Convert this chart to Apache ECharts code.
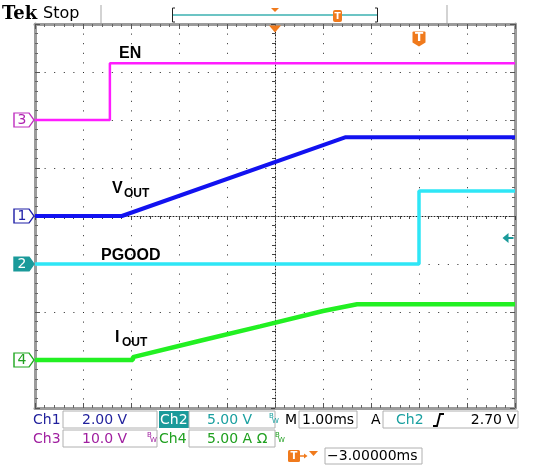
<!DOCTYPE html>
<html><head><meta charset="utf-8">
<script src="https://cdn.jsdelivr.net/npm/echarts@6/dist/echarts.min.js"></script>
<style>html,body{margin:0;padding:0;background:#fff}#c{width:539px;height:465px}</style>
</head><body><div id="c"></div>
<script>
// ---- data (time in ms, trigger at t = 0; 1 ms/div) ----
const timeMin = -8, timeMax = 2;
const enT   = [-8, -6.44, -6.44, 2];
const enV   = [0, 0, 11.8, 11.8];             // Ch3, V
const voutT = [-8, -6.19, -1.54, 2];
const voutV = [0, 0, 3.28, 3.28];             // Ch1, V
const pgT   = [-8, 0, 0, 2];
const pgV   = [0, 0, 7.6, 7.6];               // Ch2, V
const ioutT = [-8, -5.96, -5.96, -4.56, -3.31, -2.0, -1.29, 2];
const ioutV = [0, 0, 0.3, 2.0, 3.5, 5.1, 5.8, 5.8]; // Ch4, A
// channel scale ranges [min, max, per-div] (8 divisions, shifted by channel offset)
const ch1Range = [-8, 8, 2];    // 2 V/div, offset 0 div
const ch2Range = [-15, 25, 5];  // 5 V/div, offset -1 div
const ch3Range = [-60, 20, 10]; // 10 V/div, offset +2 div
const ch4Range = [-5, 35, 5];   // 5 A/div, offset -3 div
const trigLevel = 2.70;
const horizPos = -3;

const zip = (t, v) => t.map((x, i) => [x, v[i]]);
const FONT = '"DejaVu Sans", Verdana, sans-serif';
const LBL = 'bold 16px "Liberation Sans", Arial, sans-serif';
const ORANGE = '#f07a1c', TEAL = '#1a9a9a';
const frameLine = {show: true, onZero: false, lineStyle: {color: '#9c9c9c', width: 3}};
const edgeTick = {show: true, inside: true, length: 5, lineStyle: {color: '#555', width: 1}};
const edgeMinor = {show: true, splitNumber: 5, length: 3, lineStyle: {color: '#666', width: 1}};
const gridDots = {show: true, lineStyle: {color: '#222', width: 1, type: [1, 8.6]}};
const MARK = 'path://M0,0 L15,0 L20,7 L15,14 L0,14 Z';

function chMark(num, fill, stroke, txt) {
  return {coord: [timeMin, 0], symbol: MARK, symbolSize: [20, 14], symbolOffset: [-11, 0],
    itemStyle: {color: fill, borderColor: stroke, borderWidth: 1.2},
    label: {show: true, formatter: num, color: txt, fontSize: 14, fontFamily: FONT, offset: [-2, 0]}};
}
function txt(x, y, text, font, fill, extra) {
  return {type: 'text', x: x, y: y, style: Object.assign({text: text, font: font, fill: fill,
    verticalAlign: 'middle', textVerticalAlign: 'middle'}, extra || {})};
}
function box(x, y, w, h) {
  return {type: 'rect', shape: {x: x, y: y, width: w, height: h}, style: {fill: '#fff', stroke: '#b0b0b0', lineWidth: 1}};
}
function bw(x, y, color) {
  return [
    {type: 'text', x: x, y: y, style: {text: 'B', font: '7px ' + FONT, fill: color}},
    {type: 'text', x: x + 3, y: y + 5, style: {text: 'W', font: '7px ' + FONT, fill: color}}
  ];
}

const chart = echarts.init(document.getElementById('c'), null, {renderer: 'canvas'});
chart.setOption({
  animation: false,
  backgroundColor: '#fff',
  grid: {left: 35, right: 24, top: 24, bottom: 57, containLabel: false},
  xAxis: [
    {type: 'value', min: timeMin, max: timeMax, interval: 1, position: 'bottom',
     axisLine: frameLine, axisTick: edgeTick, minorTick: edgeMinor, axisLabel: {show: false},
     splitLine: gridDots},
    {type: 'value', min: timeMin, max: timeMax, interval: 1, position: 'top',
     axisLine: frameLine, axisTick: edgeTick, minorTick: edgeMinor, axisLabel: {show: false},
     splitLine: {show: false}},
    {type: 'value', min: -5, max: 5, interval: 1,
     axisLine: {show: true, onZero: true, onZeroAxisIndex: 0, lineStyle: {color: '#222', width: 1, type: [1, 2]}},
     axisTick: {show: true, inside: true, length: 4, lineStyle: {color: '#444'}},
     minorTick: {show: true, splitNumber: 5, length: 3, lineStyle: {color: '#444'}},
     axisLabel: {show: false}, splitLine: {show: false}}
  ],
  yAxis: [
    {type: 'value', min: ch1Range[0], max: ch1Range[1], interval: ch1Range[2], position: 'left',
     axisLine: frameLine, axisTick: edgeTick, minorTick: edgeMinor, axisLabel: {show: false},
     splitLine: gridDots},
    {type: 'value', show: false, min: ch2Range[0], max: ch2Range[1], interval: ch2Range[2]},
    {type: 'value', show: false, min: ch3Range[0], max: ch3Range[1], interval: ch3Range[2]},
    {type: 'value', show: false, min: ch4Range[0], max: ch4Range[1], interval: ch4Range[2]},
    {type: 'value', min: ch1Range[0], max: ch1Range[1], interval: ch1Range[2], position: 'right',
     axisLine: frameLine, axisTick: edgeTick, minorTick: edgeMinor, axisLabel: {show: false},
     splitLine: {show: false}},
    {type: 'value', min: ch1Range[0], max: ch1Range[1], interval: ch1Range[2],
     axisLine: {show: true, onZero: true, onZeroAxisIndex: 2, lineStyle: {color: '#222', width: 1, type: [1, 2]}},
     axisTick: {show: true, inside: true, length: 4, lineStyle: {color: '#444'}},
     minorTick: {show: true, splitNumber: 5, length: 3, lineStyle: {color: '#444'}},
     axisLabel: {show: false}, splitLine: {show: false}}
  ],
  series: [
    {type: 'line', name: 'EN', xAxisIndex: 0, yAxisIndex: 2, data: zip(enT, enV),
     showSymbol: false, silent: true, lineStyle: {color: '#ff1cff', width: 2.5},
     markPoint: {silent: true, data: [chMark('3', '#fff', '#c030c0', '#b020b0')]}},
    {type: 'line', name: 'PGOOD', xAxisIndex: 0, yAxisIndex: 1, data: zip(pgT, pgV),
     showSymbol: false, silent: true, lineStyle: {color: '#2ee6f6', width: 3.5},
     markPoint: {silent: true, data: [
       chMark('2', TEAL, TEAL, '#fff'),
       {coord: [timeMax, trigLevel], symbol: 'path://M0,5 L6,0 L6,4 L11,4 L11,6 L6,6 L6,10 Z', symbolSize: [11, 10], symbolOffset: [-7, 0],
        itemStyle: {color: TEAL}, label: {show: false}}
     ]}},
    {type: 'line', name: 'VOUT', xAxisIndex: 0, yAxisIndex: 0, data: zip(voutT, voutV),
     showSymbol: false, silent: true, lineStyle: {color: '#1212f0', width: 4},
     markPoint: {silent: true, data: [
       chMark('1', '#fff', '#2020a8', '#2020a8'),
       {coord: [horizPos, ch1Range[1]], symbol: 'path://M0,0 L10,0 L5,6 Z', symbolSize: [12, 7], symbolOffset: [0, 5],
        itemStyle: {color: ORANGE}, label: {show: false}},
       {coord: [0, ch1Range[1]], symbol: 'path://M1,0 L11,0 Q12,0 12,1 L12,11 L6,15 L0,11 L0,1 Q0,0 1,0 Z', symbolSize: [13, 15], symbolOffset: [0, 15],
        itemStyle: {color: ORANGE},
        label: {show: true, formatter: 'T', color: '#fff', fontSize: 12, fontWeight: 'bold', fontFamily: FONT, offset: [0, -1]}}
     ]}},
    {type: 'line', name: 'IOUT', xAxisIndex: 0, yAxisIndex: 3, data: zip(ioutT, ioutV),
     showSymbol: false, silent: true, lineStyle: {color: '#22f022', width: 4.5},
     markPoint: {silent: true, data: [chMark('4', '#fff', '#20a820', '#20a020')]}}
  ],
  graphic: [].concat(
    [
      // header
      txt(2, 14, 'Tek', 'bold 18px "DejaVu Serif", serif', '#000'),
      txt(43, 14, 'Stop', '16px ' + FONT, '#000'),
      {type: 'line', shape: {x1: 101, y1: 5, x2: 101, y2: 23}, style: {stroke: '#c4c4c4', lineWidth: 1.5}},
      {type: 'line', shape: {x1: 447, y1: 5, x2: 447, y2: 23}, style: {stroke: '#c4c4c4', lineWidth: 1.5}},
      {type: 'polyline', shape: {points: [[175, 8], [172.5, 8], [172.5, 22], [175, 22]]}, style: {stroke: '#222', lineWidth: 1, fill: null}},
      {type: 'polyline', shape: {points: [[375, 8], [377.5, 8], [377.5, 22], [375, 22]]}, style: {stroke: '#222', lineWidth: 1, fill: null}},
      {type: 'line', shape: {x1: 173, y1: 15, x2: 377, y2: 15}, style: {stroke: '#6cc4c4', lineWidth: 2}},
      {type: 'polygon', shape: {points: [[271, 8], [279, 8], [275, 12]]}, style: {fill: ORANGE}},
      {type: 'rect', shape: {x: 333, y: 10, width: 9, height: 12, r: 2}, style: {fill: ORANGE}},
      txt(337.5, 16.5, 'T', 'bold 9px ' + FONT, '#fff', {align: 'center', textAlign: 'center'}),
      // trace labels
      {type: 'text', x: 119, y: 46, style: {text: 'EN', font: LBL, fill: '#000'}},
      {type: 'text', x: 112, y: 181, style: {text: 'V', font: LBL, fill: '#000'}},
      {type: 'text', x: 124, y: 188, style: {text: 'OUT', font: 'bold 12px "Liberation Sans", Arial, sans-serif', fill: '#000'}},
      {type: 'text', x: 101, y: 248, style: {text: 'PGOOD', font: LBL, fill: '#000'}},
      {type: 'text', x: 115, y: 330, style: {text: 'I', font: LBL, fill: '#000'}},
      {type: 'text', x: 122, y: 337, style: {text: 'OUT', font: 'bold 12px "Liberation Sans", Arial, sans-serif', fill: '#000'}},
      // readout boxes
      box(63, 411, 94, 17),
      {type: 'rect', shape: {x: 159, y: 411, width: 30, height: 17}, style: {fill: TEAL}},
      box(189, 411, 86, 17), box(299, 411, 58, 17), box(383, 411, 135, 17),
      box(63, 430, 94, 17), box(189, 430, 86, 17), box(325, 448, 97, 16),
      // row 1
      txt(33, 420, 'Ch1', '14px ' + FONT, '#1f1f9c'),
      txt(82, 420, '2.00 V', '14px ' + FONT, '#1f1f9c'),
      txt(160, 420, 'Ch2', '14px ' + FONT, '#fff'),
      txt(207, 420, '5.00 V', '14px ' + FONT, '#1aa0a0'),
      txt(285, 420, 'M', '14px ' + FONT, '#000'),
      txt(302, 420, '1.00ms', '14px ' + FONT, '#000'),
      txt(371, 420, 'A', '14px ' + FONT, '#000'),
      txt(396, 420, 'Ch2', '14px ' + FONT, '#1aa0a0'),
      {type: 'polyline', shape: {points: [[433, 426], [437, 426], [440, 414], [444, 414]]}, style: {stroke: '#000', lineWidth: 1.8, fill: null}},
      txt(516, 420, '2.70 V', '14px ' + FONT, '#000', {align: 'right', textAlign: 'right'}),
      // row 2
      txt(33, 439, 'Ch3', '14px ' + FONT, '#a020a0'),
      txt(82, 439, '10.0 V', '14px ' + FONT, '#a020a0'),
      txt(159, 439, 'Ch4', '14px ' + FONT, '#20a020'),
      txt(207, 439, '5.00 A Ω', '14px ' + FONT, '#20a020'),
      // row 3
      {type: 'rect', shape: {x: 288, y: 450, width: 12, height: 12, r: 1.5}, style: {fill: ORANGE}},
      txt(294, 456, 'T', 'bold 10px ' + FONT, '#fff', {align: 'center', textAlign: 'center'}),
      {type: 'line', shape: {x1: 300, y1: 456, x2: 305, y2: 456}, style: {stroke: ORANGE, lineWidth: 1.5}},
      {type: 'polygon', shape: {points: [[304, 453.5], [307.5, 456], [304, 458.5]]}, style: {fill: ORANGE}},
      {type: 'polygon', shape: {points: [[309, 451], [318, 451], [313.5, 456]]}, style: {fill: ORANGE}},
      txt(327, 456, '\u22123.00000ms', '14px ' + FONT, '#000')
    ],
    bw(269, 413, '#1aa0a0'), bw(147, 432, '#a020a0'), bw(275, 432, '#20a020')
  )
});
</script></body></html>
